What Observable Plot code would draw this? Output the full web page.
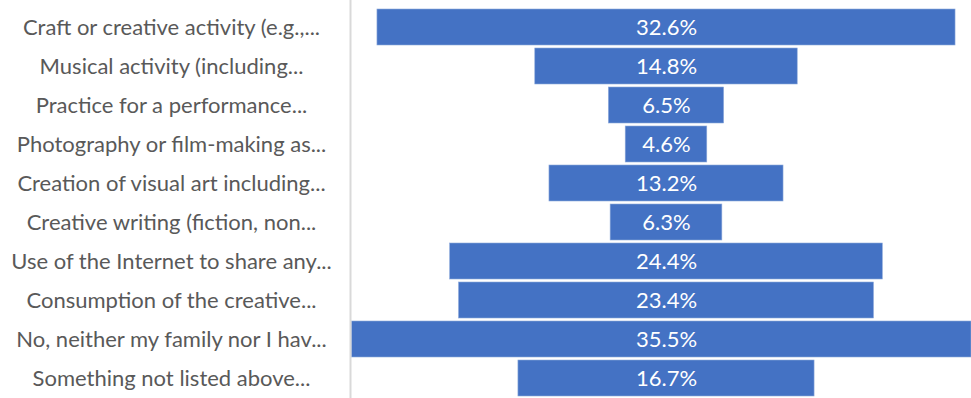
<!DOCTYPE html>
<html>
<head>
<meta charset="utf-8">
<script src="https://cdn.jsdelivr.net/npm/d3@7"></script>
<script src="https://cdn.jsdelivr.net/npm/@observablehq/plot@0.6"></script>
<style>
  html, body { margin: 0; padding: 0; background: white; overflow: hidden; }
  svg { overflow: hidden; }
</style>
</head>
<body>
<div id="chart"></div>
<script>
const categories = [
  "Craft or creative activity (e.g.,...",
  "Musical activity (including...",
  "Practice for a performance...",
  "Photography or film-making as...",
  "Creation of visual art including...",
  "Creative writing (fiction, non...",
  "Use of the Internet to share any...",
  "Consumption of the creative...",
  "No, neither my family nor I hav...",
  "Something not listed above..."
];
const values = [32.6, 14.8, 6.5, 4.6, 13.2, 6.3, 24.4, 23.4, 35.5, 16.7];

const data = categories.map((c, i) => ({cat: c, v: values[i]}));
const xDomain = [-17.82, 17.2];
const font = "Lato, 'Open Sans', sans-serif";

const chart = Plot.plot({
  width: 971,
  height: 398,
  marginLeft: 350,
  marginRight: 0,
  marginTop: 2.2,
  marginBottom: -6,
  style: {fontFamily: font, background: "white"},
  x: {domain: xDomain, clamp: true, axis: null},
  y: {domain: categories, padding: 0.07, axis: null},
  marks: [
    Plot.barX(data, {x1: d => -d.v / 2, x2: d => d.v / 2, y: "cat", fill: "#4472C4", stroke: "#8eaadb", strokeWidth: 0.6}),
    Plot.ruleX([xDomain[0]], {stroke: "#d9d9d9", strokeWidth: 2, y1: () => categories[0], y2: () => categories[categories.length - 1], insetTop: -18, insetBottom: -24}),
    Plot.text(data, {x: d => 0, y: "cat", text: d => d.v.toFixed(1) + "%", fill: "white", fontSize: 22, textAnchor: "middle"}),
    Plot.text(data, {y: "cat", text: "cat", frameAnchor: "left", dx: -179, textAnchor: "middle", fill: "#595959", fontSize: 22})
  ]
});
document.getElementById("chart").appendChild(chart);
</script>
</body>
</html>
